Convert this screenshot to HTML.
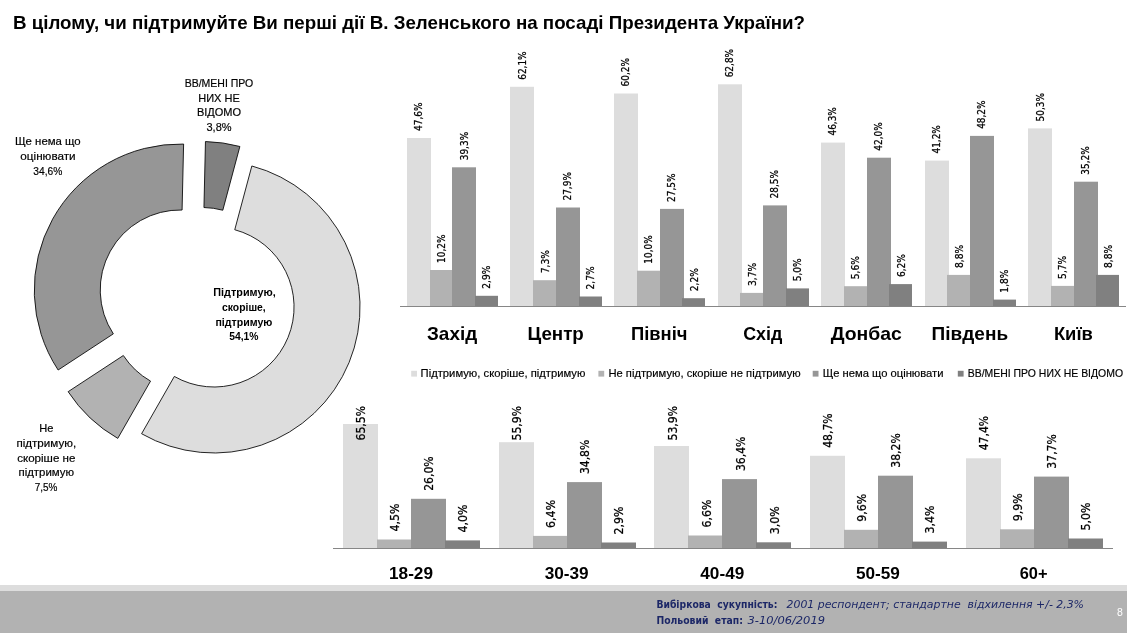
<!DOCTYPE html>
<html lang="uk"><head><meta charset="utf-8"><title>Slide 8</title>
<style>
html,body{margin:0;padding:0;background:#fff;}
body{width:1127px;height:633px;overflow:hidden;font-family:'Liberation Sans',sans-serif;}
svg{display:block;position:absolute;left:0;top:0;}
text{white-space:pre;}
</style></head><body>
<svg width="1127" height="633" viewBox="0 0 1127 633">
<rect width="1127" height="633" fill="#FFFFFF"/>
<!-- title -->
<text x="13.00" y="28.70" font-family="'Liberation Sans',sans-serif" font-size="18.4" text-anchor="start" font-weight="bold" textLength="792.00" lengthAdjust="spacingAndGlyphs">В цілому, чи підтримуйте Ви перші дії В. Зеленського на посаді Президента України?</text>
<!-- donut -->
<path d="M251.84 165.97 A146 146 0 1 1 141.58 433.74 L174.34 376.45 A80 80 0 1 0 234.76 229.73 Z" fill="#DDDDDD" stroke="#000" stroke-width="0.85" stroke-linejoin="miter"/>
<path d="M117.78 438.39 A146 146 0 0 1 68.14 391.68 L123.34 355.50 A80 80 0 0 0 150.54 381.10 Z" fill="#B2B2B2" stroke="#000" stroke-width="0.85" stroke-linejoin="miter"/>
<path d="M58.14 370.03 A146 146 0 0 1 183.61 144.04 L182.09 210.02 A80 80 0 0 0 113.34 333.85 Z" fill="#969696" stroke="#000" stroke-width="0.85" stroke-linejoin="miter"/>
<path d="M205.46 141.54 A146 146 0 0 1 239.89 146.47 L222.81 210.23 A80 80 0 0 0 203.94 207.52 Z" fill="#808080" stroke="#000" stroke-width="0.85" stroke-linejoin="miter"/>
<!-- donut labels -->
<text x="219.00" y="86.80" font-family="'Liberation Sans',sans-serif" font-size="11" text-anchor="middle" textLength="68.60" lengthAdjust="spacingAndGlyphs" stroke="#000" stroke-width="0.18">ВВ/МЕНІ ПРО</text>
<text x="219.00" y="101.50" font-family="'Liberation Sans',sans-serif" font-size="11" text-anchor="middle" stroke="#000" stroke-width="0.18">НИХ НЕ</text>
<text x="219.00" y="116.20" font-family="'Liberation Sans',sans-serif" font-size="11" text-anchor="middle" stroke="#000" stroke-width="0.18">ВІДОМО</text>
<text x="219.00" y="130.80" font-family="'Liberation Sans',sans-serif" font-size="11" text-anchor="middle" stroke="#000" stroke-width="0.18">3,8%</text>
<text x="47.80" y="144.90" font-family="'Liberation Sans',sans-serif" font-size="11" text-anchor="middle" textLength="65.80" lengthAdjust="spacingAndGlyphs" stroke="#000" stroke-width="0.18">Ще нема що</text>
<text x="48.00" y="159.60" font-family="'Liberation Sans',sans-serif" font-size="11" text-anchor="middle" textLength="55.30" lengthAdjust="spacingAndGlyphs" stroke="#000" stroke-width="0.18">оцінювати</text>
<text x="47.80" y="174.50" font-family="'Liberation Sans',sans-serif" font-size="11" text-anchor="middle" textLength="29.00" lengthAdjust="spacingAndGlyphs" stroke="#000" stroke-width="0.18">34,6%</text>
<text x="46.30" y="431.80" font-family="'Liberation Sans',sans-serif" font-size="11" text-anchor="middle" textLength="14.20" lengthAdjust="spacingAndGlyphs" stroke="#000" stroke-width="0.18">Не</text>
<text x="46.30" y="446.70" font-family="'Liberation Sans',sans-serif" font-size="11" text-anchor="middle" textLength="59.70" lengthAdjust="spacingAndGlyphs" stroke="#000" stroke-width="0.18">підтримую,</text>
<text x="46.30" y="461.50" font-family="'Liberation Sans',sans-serif" font-size="11" text-anchor="middle" textLength="58.30" lengthAdjust="spacingAndGlyphs" stroke="#000" stroke-width="0.18">скоріше не</text>
<text x="46.30" y="476.10" font-family="'Liberation Sans',sans-serif" font-size="11" text-anchor="middle" textLength="55.70" lengthAdjust="spacingAndGlyphs" stroke="#000" stroke-width="0.18">підтримую</text>
<text x="46.00" y="491.00" font-family="'Liberation Sans',sans-serif" font-size="11" text-anchor="middle" textLength="22.70" lengthAdjust="spacingAndGlyphs" stroke="#000" stroke-width="0.18">7,5%</text>
<text x="244.50" y="295.70" font-family="'Liberation Sans',sans-serif" font-size="11" text-anchor="middle" font-weight="bold" textLength="62.30" lengthAdjust="spacingAndGlyphs">Підтримую,</text>
<text x="243.90" y="310.60" font-family="'Liberation Sans',sans-serif" font-size="11" text-anchor="middle" font-weight="bold" textLength="43.70" lengthAdjust="spacingAndGlyphs">скоріше,</text>
<text x="243.90" y="325.50" font-family="'Liberation Sans',sans-serif" font-size="11" text-anchor="middle" font-weight="bold" textLength="57.00" lengthAdjust="spacingAndGlyphs">підтримую</text>
<text x="243.90" y="339.70" font-family="'Liberation Sans',sans-serif" font-size="11" text-anchor="middle" font-weight="bold" textLength="29.30" lengthAdjust="spacingAndGlyphs">54,1%</text>
<!-- regions chart -->
<rect x="407" y="138.0" width="24" height="168.0" fill="#DDDDDD"/>
<text transform="translate(422.23 130.97) rotate(-90)" font-family="'DejaVu Sans Condensed','Liberation Sans',sans-serif" font-size="10.34" stroke="#000" stroke-width="0.25" textLength="28.41" lengthAdjust="spacingAndGlyphs">47,6%</text>
<rect x="430" y="270.0" width="24" height="36.0" fill="#B2B2B2"/>
<text transform="translate(444.98 262.99) rotate(-90)" font-family="'DejaVu Sans Condensed','Liberation Sans',sans-serif" font-size="10.34" stroke="#000" stroke-width="0.25" textLength="28.41" lengthAdjust="spacingAndGlyphs">10,2%</text>
<rect x="452" y="167.3" width="24" height="138.7" fill="#969696"/>
<text transform="translate(467.73 160.27) rotate(-90)" font-family="'DejaVu Sans Condensed','Liberation Sans',sans-serif" font-size="10.34" stroke="#000" stroke-width="0.25" textLength="28.41" lengthAdjust="spacingAndGlyphs">39,3%</text>
<rect x="475" y="295.8" width="23" height="10.2" fill="#808080"/>
<text transform="translate(490.48 288.76) rotate(-90)" font-family="'DejaVu Sans Condensed','Liberation Sans',sans-serif" font-size="10.34" stroke="#000" stroke-width="0.25" textLength="23.09" lengthAdjust="spacingAndGlyphs">2,9%</text>
<text x="452.10" y="339.90" font-family="'Liberation Sans',sans-serif" font-size="18.2" text-anchor="middle" font-weight="bold" textLength="50.20" lengthAdjust="spacingAndGlyphs">Захід</text>
<rect x="510" y="86.8" width="24" height="219.2" fill="#DDDDDD"/>
<text transform="translate(525.79 79.79) rotate(-90)" font-family="'DejaVu Sans Condensed','Liberation Sans',sans-serif" font-size="10.34" stroke="#000" stroke-width="0.25" textLength="28.41" lengthAdjust="spacingAndGlyphs">62,1%</text>
<rect x="533" y="280.2" width="24" height="25.8" fill="#B2B2B2"/>
<text transform="translate(548.54 273.23) rotate(-90)" font-family="'DejaVu Sans Condensed','Liberation Sans',sans-serif" font-size="10.34" stroke="#000" stroke-width="0.25" textLength="23.09" lengthAdjust="spacingAndGlyphs">7,3%</text>
<rect x="556" y="207.5" width="24" height="98.5" fill="#969696"/>
<text transform="translate(571.29 200.51) rotate(-90)" font-family="'DejaVu Sans Condensed','Liberation Sans',sans-serif" font-size="10.34" stroke="#000" stroke-width="0.25" textLength="28.41" lengthAdjust="spacingAndGlyphs">27,9%</text>
<rect x="579" y="296.5" width="23" height="9.5" fill="#808080"/>
<text transform="translate(594.04 289.47) rotate(-90)" font-family="'DejaVu Sans Condensed','Liberation Sans',sans-serif" font-size="10.34" stroke="#000" stroke-width="0.25" textLength="23.09" lengthAdjust="spacingAndGlyphs">2,7%</text>
<text x="555.65" y="339.90" font-family="'Liberation Sans',sans-serif" font-size="18.2" text-anchor="middle" font-weight="bold" textLength="56.40" lengthAdjust="spacingAndGlyphs">Центр</text>
<rect x="614" y="93.5" width="24" height="212.5" fill="#DDDDDD"/>
<text transform="translate(629.34 86.49) rotate(-90)" font-family="'DejaVu Sans Condensed','Liberation Sans',sans-serif" font-size="10.34" stroke="#000" stroke-width="0.25" textLength="28.41" lengthAdjust="spacingAndGlyphs">60,2%</text>
<rect x="637" y="270.7" width="24" height="35.3" fill="#B2B2B2"/>
<text transform="translate(652.09 263.70) rotate(-90)" font-family="'DejaVu Sans Condensed','Liberation Sans',sans-serif" font-size="10.34" stroke="#000" stroke-width="0.25" textLength="28.41" lengthAdjust="spacingAndGlyphs">10,0%</text>
<rect x="660" y="208.9" width="24" height="97.1" fill="#969696"/>
<text transform="translate(674.84 201.93) rotate(-90)" font-family="'DejaVu Sans Condensed','Liberation Sans',sans-serif" font-size="10.34" stroke="#000" stroke-width="0.25" textLength="28.41" lengthAdjust="spacingAndGlyphs">27,5%</text>
<rect x="682" y="298.2" width="23" height="7.8" fill="#808080"/>
<text transform="translate(697.59 291.23) rotate(-90)" font-family="'DejaVu Sans Condensed','Liberation Sans',sans-serif" font-size="10.34" stroke="#000" stroke-width="0.25" textLength="23.09" lengthAdjust="spacingAndGlyphs">2,2%</text>
<text x="659.20" y="339.90" font-family="'Liberation Sans',sans-serif" font-size="18.2" text-anchor="middle" font-weight="bold" textLength="56.50" lengthAdjust="spacingAndGlyphs">Північ</text>
<rect x="718" y="84.3" width="24" height="221.7" fill="#DDDDDD"/>
<text transform="translate(732.88 77.32) rotate(-90)" font-family="'DejaVu Sans Condensed','Liberation Sans',sans-serif" font-size="10.34" stroke="#000" stroke-width="0.25" textLength="28.41" lengthAdjust="spacingAndGlyphs">62,8%</text>
<rect x="740" y="292.9" width="24" height="13.1" fill="#B2B2B2"/>
<text transform="translate(755.63 285.94) rotate(-90)" font-family="'DejaVu Sans Condensed','Liberation Sans',sans-serif" font-size="10.34" stroke="#000" stroke-width="0.25" textLength="23.09" lengthAdjust="spacingAndGlyphs">3,7%</text>
<rect x="763" y="205.4" width="24" height="100.6" fill="#969696"/>
<text transform="translate(778.38 198.40) rotate(-90)" font-family="'DejaVu Sans Condensed','Liberation Sans',sans-serif" font-size="10.34" stroke="#000" stroke-width="0.25" textLength="28.41" lengthAdjust="spacingAndGlyphs">28,5%</text>
<rect x="786" y="288.4" width="23" height="17.6" fill="#808080"/>
<text transform="translate(801.13 281.35) rotate(-90)" font-family="'DejaVu Sans Condensed','Liberation Sans',sans-serif" font-size="10.34" stroke="#000" stroke-width="0.25" textLength="23.09" lengthAdjust="spacingAndGlyphs">5,0%</text>
<text x="762.75" y="339.90" font-family="'Liberation Sans',sans-serif" font-size="18.2" text-anchor="middle" font-weight="bold" textLength="39.20" lengthAdjust="spacingAndGlyphs">Схід</text>
<rect x="821" y="142.6" width="24" height="163.4" fill="#DDDDDD"/>
<text transform="translate(836.43 135.56) rotate(-90)" font-family="'DejaVu Sans Condensed','Liberation Sans',sans-serif" font-size="10.34" stroke="#000" stroke-width="0.25" textLength="28.41" lengthAdjust="spacingAndGlyphs">46,3%</text>
<rect x="844" y="286.2" width="24" height="19.8" fill="#B2B2B2"/>
<text transform="translate(859.18 279.23) rotate(-90)" font-family="'DejaVu Sans Condensed','Liberation Sans',sans-serif" font-size="10.34" stroke="#000" stroke-width="0.25" textLength="23.09" lengthAdjust="spacingAndGlyphs">5,6%</text>
<rect x="867" y="157.7" width="24" height="148.3" fill="#969696"/>
<text transform="translate(881.93 150.74) rotate(-90)" font-family="'DejaVu Sans Condensed','Liberation Sans',sans-serif" font-size="10.34" stroke="#000" stroke-width="0.25" textLength="28.41" lengthAdjust="spacingAndGlyphs">42,0%</text>
<rect x="889" y="284.1" width="23" height="21.9" fill="#808080"/>
<text transform="translate(904.68 277.11) rotate(-90)" font-family="'DejaVu Sans Condensed','Liberation Sans',sans-serif" font-size="10.34" stroke="#000" stroke-width="0.25" textLength="23.09" lengthAdjust="spacingAndGlyphs">6,2%</text>
<text x="866.30" y="339.90" font-family="'Liberation Sans',sans-serif" font-size="18.2" text-anchor="middle" font-weight="bold" textLength="71.20" lengthAdjust="spacingAndGlyphs">Донбас</text>
<rect x="925" y="160.6" width="24" height="145.4" fill="#DDDDDD"/>
<text transform="translate(939.99 153.56) rotate(-90)" font-family="'DejaVu Sans Condensed','Liberation Sans',sans-serif" font-size="10.34" stroke="#000" stroke-width="0.25" textLength="28.41" lengthAdjust="spacingAndGlyphs">41,2%</text>
<rect x="947" y="274.9" width="24" height="31.1" fill="#B2B2B2"/>
<text transform="translate(962.74 267.94) rotate(-90)" font-family="'DejaVu Sans Condensed','Liberation Sans',sans-serif" font-size="10.34" stroke="#000" stroke-width="0.25" textLength="23.09" lengthAdjust="spacingAndGlyphs">8,8%</text>
<rect x="970" y="135.9" width="24" height="170.1" fill="#969696"/>
<text transform="translate(985.49 128.85) rotate(-90)" font-family="'DejaVu Sans Condensed','Liberation Sans',sans-serif" font-size="10.34" stroke="#000" stroke-width="0.25" textLength="28.41" lengthAdjust="spacingAndGlyphs">48,2%</text>
<rect x="993" y="299.6" width="23" height="6.4" fill="#808080"/>
<text transform="translate(1008.24 292.65) rotate(-90)" font-family="'DejaVu Sans Condensed','Liberation Sans',sans-serif" font-size="10.34" stroke="#000" stroke-width="0.25" textLength="23.09" lengthAdjust="spacingAndGlyphs">1,8%</text>
<text x="969.85" y="339.90" font-family="'Liberation Sans',sans-serif" font-size="18.2" text-anchor="middle" font-weight="bold" textLength="76.50" lengthAdjust="spacingAndGlyphs">Південь</text>
<rect x="1028" y="128.4" width="24" height="177.6" fill="#DDDDDD"/>
<text transform="translate(1043.53 121.44) rotate(-90)" font-family="'DejaVu Sans Condensed','Liberation Sans',sans-serif" font-size="10.34" stroke="#000" stroke-width="0.25" textLength="28.41" lengthAdjust="spacingAndGlyphs">50,3%</text>
<rect x="1051" y="285.9" width="24" height="20.1" fill="#B2B2B2"/>
<text transform="translate(1066.28 278.88) rotate(-90)" font-family="'DejaVu Sans Condensed','Liberation Sans',sans-serif" font-size="10.34" stroke="#000" stroke-width="0.25" textLength="23.09" lengthAdjust="spacingAndGlyphs">5,7%</text>
<rect x="1074" y="181.7" width="24" height="124.3" fill="#969696"/>
<text transform="translate(1089.03 174.74) rotate(-90)" font-family="'DejaVu Sans Condensed','Liberation Sans',sans-serif" font-size="10.34" stroke="#000" stroke-width="0.25" textLength="28.41" lengthAdjust="spacingAndGlyphs">35,2%</text>
<rect x="1096" y="274.9" width="23" height="31.1" fill="#808080"/>
<text transform="translate(1111.78 267.94) rotate(-90)" font-family="'DejaVu Sans Condensed','Liberation Sans',sans-serif" font-size="10.34" stroke="#000" stroke-width="0.25" textLength="23.09" lengthAdjust="spacingAndGlyphs">8,8%</text>
<text x="1073.40" y="339.90" font-family="'Liberation Sans',sans-serif" font-size="18.2" text-anchor="middle" font-weight="bold" textLength="39.00" lengthAdjust="spacingAndGlyphs">Київ</text>
<rect x="400" y="306" width="726" height="1" fill="#868686"/>
<!-- legend -->
<rect x="411.2" y="370.8" width="5.8" height="5.8" fill="#DDDDDD"/>
<text x="420.60" y="377.30" font-family="'Liberation Sans',sans-serif" font-size="11.3" text-anchor="start" textLength="164.80" lengthAdjust="spacingAndGlyphs" stroke="#000" stroke-width="0.18">Підтримую, скоріше, підтримую</text>
<rect x="598.4" y="370.8" width="5.8" height="5.8" fill="#B2B2B2"/>
<text x="608.40" y="377.30" font-family="'Liberation Sans',sans-serif" font-size="11.3" text-anchor="start" textLength="192.30" lengthAdjust="spacingAndGlyphs" stroke="#000" stroke-width="0.18">Не підтримую, скоріше не підтримую</text>
<rect x="812.7" y="370.8" width="5.8" height="5.8" fill="#969696"/>
<text x="822.70" y="377.30" font-family="'Liberation Sans',sans-serif" font-size="11.3" text-anchor="start" textLength="120.80" lengthAdjust="spacingAndGlyphs" stroke="#000" stroke-width="0.18">Ще нема що оцінювати</text>
<rect x="957.8" y="370.8" width="5.8" height="5.8" fill="#808080"/>
<text x="967.80" y="377.30" font-family="'Liberation Sans',sans-serif" font-size="11.3" text-anchor="start" textLength="155.20" lengthAdjust="spacingAndGlyphs" stroke="#000" stroke-width="0.18">ВВ/МЕНІ ПРО НИХ НЕ ВІДОМО</text>
<!-- age chart -->
<rect x="343" y="424.0" width="35" height="124.0" fill="#DDDDDD"/>
<text transform="translate(365.20 440.42) rotate(-90)" font-family="'DejaVu Sans Condensed','Liberation Sans',sans-serif" font-size="12.5302" stroke="#000" stroke-width="0.25" textLength="34.42" lengthAdjust="spacingAndGlyphs">65,5%</text>
<rect x="377" y="539.5" width="35" height="8.5" fill="#B2B2B2"/>
<text transform="translate(399.20 531.48) rotate(-90)" font-family="'DejaVu Sans Condensed','Liberation Sans',sans-serif" font-size="12.5302" stroke="#000" stroke-width="0.25" textLength="27.98" lengthAdjust="spacingAndGlyphs">4,5%</text>
<rect x="411" y="498.8" width="35" height="49.2" fill="#969696"/>
<text transform="translate(433.20 490.78) rotate(-90)" font-family="'DejaVu Sans Condensed','Liberation Sans',sans-serif" font-size="12.5302" stroke="#000" stroke-width="0.25" textLength="34.42" lengthAdjust="spacingAndGlyphs">26,0%</text>
<rect x="445" y="540.4" width="35" height="7.6" fill="#808080"/>
<text transform="translate(467.20 532.43) rotate(-90)" font-family="'DejaVu Sans Condensed','Liberation Sans',sans-serif" font-size="12.5302" stroke="#000" stroke-width="0.25" textLength="27.98" lengthAdjust="spacingAndGlyphs">4,0%</text>
<text x="411.00" y="579.20" font-family="'Liberation Sans',sans-serif" font-size="16.8" text-anchor="middle" font-weight="bold" textLength="44.00" lengthAdjust="spacingAndGlyphs">18-29</text>
<rect x="499" y="442.2" width="35" height="105.8" fill="#DDDDDD"/>
<text transform="translate(520.85 440.42) rotate(-90)" font-family="'DejaVu Sans Condensed','Liberation Sans',sans-serif" font-size="12.5302" stroke="#000" stroke-width="0.25" textLength="34.42" lengthAdjust="spacingAndGlyphs">55,9%</text>
<rect x="533" y="535.9" width="35" height="12.1" fill="#B2B2B2"/>
<text transform="translate(554.85 527.88) rotate(-90)" font-family="'DejaVu Sans Condensed','Liberation Sans',sans-serif" font-size="12.5302" stroke="#000" stroke-width="0.25" textLength="27.98" lengthAdjust="spacingAndGlyphs">6,4%</text>
<rect x="567" y="482.1" width="35" height="65.9" fill="#969696"/>
<text transform="translate(588.85 474.12) rotate(-90)" font-family="'DejaVu Sans Condensed','Liberation Sans',sans-serif" font-size="12.5302" stroke="#000" stroke-width="0.25" textLength="34.42" lengthAdjust="spacingAndGlyphs">34,8%</text>
<rect x="601" y="542.5" width="35" height="5.5" fill="#808080"/>
<text transform="translate(622.85 534.51) rotate(-90)" font-family="'DejaVu Sans Condensed','Liberation Sans',sans-serif" font-size="12.5302" stroke="#000" stroke-width="0.25" textLength="27.98" lengthAdjust="spacingAndGlyphs">2,9%</text>
<text x="566.65" y="579.20" font-family="'Liberation Sans',sans-serif" font-size="16.8" text-anchor="middle" font-weight="bold" textLength="44.00" lengthAdjust="spacingAndGlyphs">30-39</text>
<rect x="654" y="446.0" width="35" height="102.0" fill="#DDDDDD"/>
<text transform="translate(676.50 440.42) rotate(-90)" font-family="'DejaVu Sans Condensed','Liberation Sans',sans-serif" font-size="12.5302" stroke="#000" stroke-width="0.25" textLength="34.42" lengthAdjust="spacingAndGlyphs">53,9%</text>
<rect x="688" y="535.5" width="35" height="12.5" fill="#B2B2B2"/>
<text transform="translate(710.50 527.51) rotate(-90)" font-family="'DejaVu Sans Condensed','Liberation Sans',sans-serif" font-size="12.5302" stroke="#000" stroke-width="0.25" textLength="27.98" lengthAdjust="spacingAndGlyphs">6,6%</text>
<rect x="722" y="479.1" width="35" height="68.9" fill="#969696"/>
<text transform="translate(744.50 471.09) rotate(-90)" font-family="'DejaVu Sans Condensed','Liberation Sans',sans-serif" font-size="12.5302" stroke="#000" stroke-width="0.25" textLength="34.42" lengthAdjust="spacingAndGlyphs">36,4%</text>
<rect x="756" y="542.3" width="35" height="5.7" fill="#808080"/>
<text transform="translate(778.50 534.32) rotate(-90)" font-family="'DejaVu Sans Condensed','Liberation Sans',sans-serif" font-size="12.5302" stroke="#000" stroke-width="0.25" textLength="27.98" lengthAdjust="spacingAndGlyphs">3,0%</text>
<text x="722.30" y="579.20" font-family="'Liberation Sans',sans-serif" font-size="16.8" text-anchor="middle" font-weight="bold" textLength="44.00" lengthAdjust="spacingAndGlyphs">40-49</text>
<rect x="810" y="455.8" width="35" height="92.2" fill="#DDDDDD"/>
<text transform="translate(832.15 447.81) rotate(-90)" font-family="'DejaVu Sans Condensed','Liberation Sans',sans-serif" font-size="12.5302" stroke="#000" stroke-width="0.25" textLength="34.42" lengthAdjust="spacingAndGlyphs">48,7%</text>
<rect x="844" y="529.8" width="35" height="18.2" fill="#B2B2B2"/>
<text transform="translate(866.15 521.83) rotate(-90)" font-family="'DejaVu Sans Condensed','Liberation Sans',sans-serif" font-size="12.5302" stroke="#000" stroke-width="0.25" textLength="27.98" lengthAdjust="spacingAndGlyphs">9,6%</text>
<rect x="878" y="475.7" width="35" height="72.3" fill="#969696"/>
<text transform="translate(900.15 467.69) rotate(-90)" font-family="'DejaVu Sans Condensed','Liberation Sans',sans-serif" font-size="12.5302" stroke="#000" stroke-width="0.25" textLength="34.42" lengthAdjust="spacingAndGlyphs">38,2%</text>
<rect x="912" y="541.6" width="35" height="6.4" fill="#808080"/>
<text transform="translate(934.15 533.56) rotate(-90)" font-family="'DejaVu Sans Condensed','Liberation Sans',sans-serif" font-size="12.5302" stroke="#000" stroke-width="0.25" textLength="27.98" lengthAdjust="spacingAndGlyphs">3,4%</text>
<text x="877.95" y="579.20" font-family="'Liberation Sans',sans-serif" font-size="16.8" text-anchor="middle" font-weight="bold" textLength="44.00" lengthAdjust="spacingAndGlyphs">50-59</text>
<rect x="966" y="458.3" width="35" height="89.7" fill="#DDDDDD"/>
<text transform="translate(987.80 450.27) rotate(-90)" font-family="'DejaVu Sans Condensed','Liberation Sans',sans-serif" font-size="12.5302" stroke="#000" stroke-width="0.25" textLength="34.42" lengthAdjust="spacingAndGlyphs">47,4%</text>
<rect x="1000" y="529.3" width="35" height="18.7" fill="#B2B2B2"/>
<text transform="translate(1021.80 521.26) rotate(-90)" font-family="'DejaVu Sans Condensed','Liberation Sans',sans-serif" font-size="12.5302" stroke="#000" stroke-width="0.25" textLength="27.98" lengthAdjust="spacingAndGlyphs">9,9%</text>
<rect x="1034" y="476.6" width="35" height="71.4" fill="#969696"/>
<text transform="translate(1055.80 468.63) rotate(-90)" font-family="'DejaVu Sans Condensed','Liberation Sans',sans-serif" font-size="12.5302" stroke="#000" stroke-width="0.25" textLength="34.42" lengthAdjust="spacingAndGlyphs">37,7%</text>
<rect x="1068" y="538.5" width="35" height="9.5" fill="#808080"/>
<text transform="translate(1089.80 530.53) rotate(-90)" font-family="'DejaVu Sans Condensed','Liberation Sans',sans-serif" font-size="12.5302" stroke="#000" stroke-width="0.25" textLength="27.98" lengthAdjust="spacingAndGlyphs">5,0%</text>
<text x="1033.60" y="579.20" font-family="'Liberation Sans',sans-serif" font-size="16.8" text-anchor="middle" font-weight="bold" textLength="27.80" lengthAdjust="spacingAndGlyphs">60+</text>
<rect x="333" y="548" width="780" height="1" fill="#868686"/>
<!-- footer -->
<rect x="0" y="585" width="1127" height="6.2" fill="#DDDDDD"/>
<rect x="0" y="591" width="1127" height="42" fill="#B2B2B2"/>
<text x="656.40" y="608.00" font-family="'DejaVu Sans',sans-serif" font-size="10.8" text-anchor="start" font-weight="bold" fill="#1C2767" textLength="121.00" lengthAdjust="spacingAndGlyphs" xml:space="preserve">Вибіркова  сукупність:</text>
<text x="786.50" y="608.00" font-family="'DejaVu Sans',sans-serif" font-size="10.8" text-anchor="start" font-style="italic" fill="#1C2767" textLength="297.50" lengthAdjust="spacingAndGlyphs" xml:space="preserve">2001 респондент; стандартне  відхилення +/- 2,3%</text>
<text x="656.40" y="624.00" font-family="'DejaVu Sans',sans-serif" font-size="10.8" text-anchor="start" font-weight="bold" fill="#1C2767" textLength="86.50" lengthAdjust="spacingAndGlyphs" xml:space="preserve">Польовий  етап:</text>
<text x="747.50" y="624.00" font-family="'DejaVu Sans',sans-serif" font-size="10.8" text-anchor="start" font-style="italic" fill="#1C2767" textLength="77.50" lengthAdjust="spacingAndGlyphs">3-10/06/2019</text>
<text x="1117.00" y="616.00" font-family="'Liberation Sans',sans-serif" font-size="10.5" text-anchor="start" fill="#FFFFFF">8</text>
</svg>
</body></html>
